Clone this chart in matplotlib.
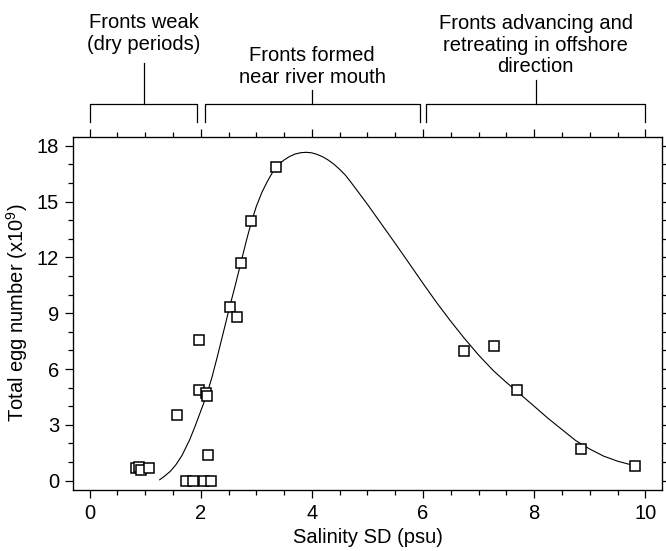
import matplotlib
matplotlib.use("Agg")
import matplotlib.pyplot as plt
from matplotlib.ticker import MultipleLocator

plt.rcParams['font.family'] = ['Liberation Sans', 'DejaVu Sans']
plt.rcParams['mathtext.default'] = 'regular'

# Observed data: salinity SD (psu) and total egg number (x10^9)
salinity_sd = [0.84, 0.89, 0.93, 1.06, 1.74, 1.86, 2.06, 2.18, 1.58, 1.96, 1.96,
               2.10, 2.12, 2.13, 2.53, 2.65, 2.72, 2.91, 3.36, 6.73, 7.27, 7.69,
               8.84, 9.81]
egg_number = [0.66, 0.72, 0.57, 0.66, 0.0, 0.0, 0.0, 0.0, 3.55, 7.55, 4.87,
              4.73, 4.57, 1.38, 9.32, 8.81, 11.68, 13.95, 16.84, 6.97, 7.22, 4.87,
              1.70, 0.81]

# Fitted curve
curve_x = [1.26, 1.35, 1.45, 1.55, 1.66, 1.8, 1.9, 2.0, 2.1, 2.2, 2.3, 2.4, 2.52,
           2.62, 2.72, 2.82, 2.91, 3.0, 3.1, 3.2, 3.3, 3.4, 3.5, 3.6, 3.7, 3.8,
           3.9, 4.0, 4.1, 4.2, 4.3, 4.4, 4.5, 4.6, 4.7, 4.85, 5.0, 5.25, 5.5,
           5.75, 6.0, 6.25, 6.49, 6.73, 7.0, 7.27, 7.5, 7.69, 8.0, 8.25, 8.5,
           8.75, 9.0, 9.25, 9.5, 9.81]
curve_y = [0.05, 0.25, 0.5, 0.85, 1.35, 2.2, 2.95, 3.75, 4.55, 5.55, 6.7, 7.9, 9.35,
           10.5, 11.7, 12.9, 13.9, 14.75, 15.5, 16.1, 16.62, 17.0, 17.24, 17.43,
           17.56, 17.63, 17.65, 17.62, 17.53, 17.4, 17.22, 17.0, 16.73, 16.43,
           16.05, 15.45, 14.85, 13.8, 12.75, 11.68, 10.6, 9.55, 8.6, 7.7, 6.75,
           5.9, 5.28, 4.8, 4.0, 3.35, 2.75, 2.15, 1.7, 1.32, 1.05, 0.8]

# Regimes along the top
regime_labels = ["Fronts weak\n(dry periods)", "Fronts formed\nnear river mouth",
                 "Fronts advancing and\nretreating in offshore\ndirection"]
regime_start = [0.0, 2.07, 6.05]
regime_end = [1.94, 5.94, 10.0]

x_ticks = [0, 2, 4, 6, 8, 10]
y_ticks = [0, 3, 6, 9, 12, 15, 18]

FS = 14.5

fig = plt.figure(figsize=(6.66, 5.51), dpi=100)
ax = fig.add_axes([73/666, 1-490/551, (662-73)/666, (490-136.5)/551])

ax.plot(curve_x, curve_y, color='black', lw=0.8, zorder=2)
ax.plot(salinity_sd, egg_number, linestyle='none', marker='s', markersize=6.5,
        markerfacecolor='white', markeredgecolor='black', markeredgewidth=1.1, zorder=3)

ax.set_xlim(-0.3, 10.3)
ax.set_ylim(-0.5, 18.5)
ax.set_xticks(x_ticks)
ax.set_yticks(y_ticks)
ax.xaxis.set_minor_locator(MultipleLocator(0.5))
ax.yaxis.set_minor_locator(MultipleLocator(1))
ax.tick_params(axis='both', which='major', direction='out', length=6, width=0.9,
               labelsize=FS, colors='black', pad=4)
ax.tick_params(axis='both', which='minor', direction='out', length=3.5, width=0.9)
ax.tick_params(axis='x', which='both', top=True)
for s in ax.spines.values():
    s.set_linewidth(0.9)

axr = ax.twinx()
axr.set_ylim(-0.5, 18.5)
axr.yaxis.set_major_locator(MultipleLocator(1))
axr.tick_params(axis='y', which='major', direction='out', length=3.5, width=0.9,
                labelright=False)

ax.set_xlabel("Salinity SD (psu)", fontsize=FS, labelpad=4)
ax.set_ylabel("Total egg number (x10$^9$)", fontsize=FS, labelpad=5)

# Brackets above the plot
y_top = 20.24
y_leg = 19.27
stem_top = [22.44, 21.0, 21.53]
text_y = [24.03, 22.26, 23.41]
for i, lab in enumerate(regime_labels):
    x0, x1 = regime_start[i], regime_end[i]
    xm = (x0 + x1) / 2
    ax.plot([x0, x0, x1, x1], [y_leg, y_top, y_top, y_leg], color='black', lw=0.9,
            clip_on=False)
    ax.plot([xm, xm], [y_top, stem_top[i]], color='black', lw=0.9, clip_on=False)
    ax.text(xm, text_y[i], lab, ha='center', va='center', fontsize=FS,
            linespacing=1.18, clip_on=False)

fig.savefig("out.png", dpi=100)
